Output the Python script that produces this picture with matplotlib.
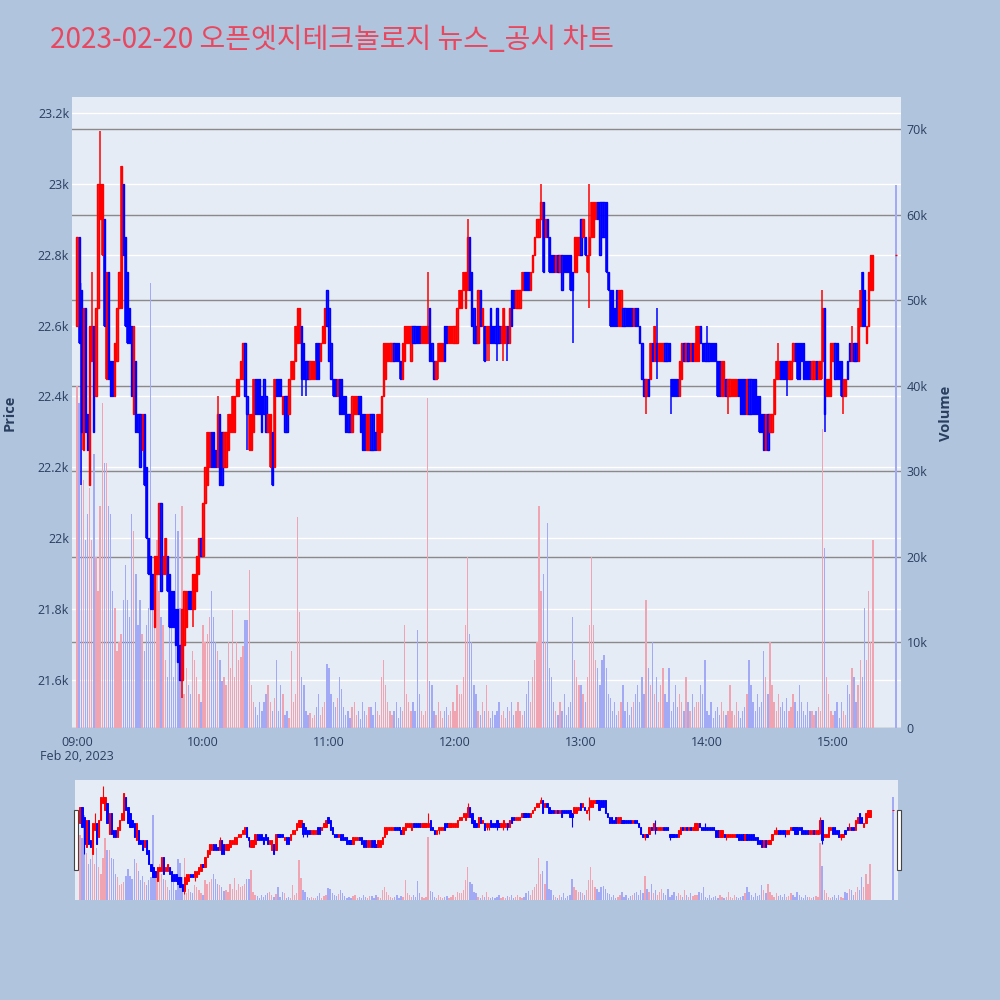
import numpy as np
import matplotlib.pyplot as plt
from matplotlib.patches import Rectangle
from matplotlib.ticker import FuncFormatter

plt.rcParams['font.family'] = ['Open Sans', 'Noto Sans CJK KR', 'DejaVu Sans']

# prices are stored as ticks of 50 won above 21,500
BASE = 21500
TICK = 50

# minutes after 09:00 (continuous session, then the 15:30 closing auction)
minutes = list(range(380)) + [390]

open_t = [
    22, 27, 24, 15, 23, 17, 13, 20, 22, 18, 23, 28, 26, 28, 19, 25, 20, 20, 18, 20,
    23, 23, 30, 27, 25, 23, 22, 17, 20, 17, 17, 15, 17, 14, 10, 9, 8, 5, 8, 8,
    12, 8, 8, 9, 8, 7, 7, 6, 6, 4, 2, 4, 5, 7, 7, 6, 6, 7, 8, 10,
    9, 12, 13, 14, 16, 16, 15, 14, 17, 16, 14, 14, 15, 16, 16, 16, 18, 18, 19, 19,
    21, 18, 15, 15, 16, 19, 19, 19, 18, 19, 18, 16, 14, 16, 14, 19, 19, 19, 17, 18,
    18, 17, 19, 19, 20, 21, 21, 22, 21, 20, 20, 19, 19, 19, 21, 21, 20, 21, 21, 24,
    23, 21, 19, 19, 18, 19, 19, 18, 18, 17, 17, 16, 17, 17, 18, 18, 17, 17, 15, 15,
    17, 17, 16, 15, 15, 16, 18, 19, 20, 20, 20, 21, 21, 21, 20, 19, 20, 21, 21, 20,
    22, 22, 22, 22, 21, 21, 21, 21, 23, 21, 20, 19, 20, 20, 20, 22, 22, 21, 21, 21,
    21, 21, 23, 23, 24, 23, 24, 27, 25, 23, 22, 21, 24, 22, 22, 21, 21, 23, 22, 22,
    23, 22, 21, 21, 21, 22, 21, 24, 24, 23, 23, 23, 24, 25, 25, 25, 24, 25, 26, 27,
    27, 28, 29, 27, 28, 27, 26, 26, 25, 26, 25, 26, 26, 26, 26, 26, 25, 25, 25, 26,
    28, 27, 27, 25, 26, 27, 27, 28, 29, 29, 29, 29, 29, 25, 24, 24, 23, 24, 22, 22,
    23, 23, 23, 23, 23, 22, 23, 23, 22, 21, 19, 18, 19, 19, 21, 20, 21, 20, 20, 20,
    21, 21, 21, 19, 19, 19, 19, 18, 19, 21, 20, 21, 20, 21, 20, 20, 20, 22, 21, 21,
    21, 21, 21, 21, 21, 20, 20, 18, 18, 19, 18, 18, 18, 18, 18, 19, 19, 19, 19, 17,
    19, 19, 19, 19, 18, 18, 17, 17, 15, 17, 16, 16, 17, 19, 19, 20, 20, 20, 20, 19,
    19, 20, 21, 21, 21, 21, 21, 20, 20, 20, 19, 19, 20, 19, 19, 20, 23, 18, 18, 18,
    20, 21, 21, 20, 20, 18, 18, 20, 21, 20, 21, 21, 20, 22, 25, 24, 21, 22, 24, 24,
    26]

close_t = [
    27, 21, 16, 23, 16, 15, 22, 22, 16, 23, 30, 30, 30, 22, 25, 19, 18, 18, 21, 23,
    25, 31, 26, 22, 21, 21, 18, 22, 16, 16, 14, 17, 13, 10, 8, 6, 6, 9, 9, 12,
    7, 9, 10, 7, 5, 5, 5, 4, 3, 2, 6, 7, 7, 6, 6, 8, 8, 9, 10, 9,
    12, 14, 16, 16, 14, 14, 14, 17, 13, 13, 16, 16, 17, 17, 18, 18, 19, 19, 20, 21,
    18, 17, 17, 17, 19, 17, 17, 17, 16, 17, 16, 17, 17, 13, 19, 18, 18, 18, 18, 16,
    16, 19, 20, 20, 22, 23, 23, 19, 19, 19, 19, 20, 20, 20, 19, 19, 21, 22, 23, 22,
    20, 19, 18, 18, 19, 17, 17, 17, 16, 16, 16, 18, 18, 18, 17, 16, 15, 15, 17, 17,
    15, 15, 15, 17, 17, 18, 21, 21, 21, 21, 21, 20, 20, 20, 19, 21, 22, 22, 22, 22,
    21, 21, 21, 21, 22, 22, 22, 22, 20, 20, 19, 20, 21, 21, 21, 20, 21, 22, 22, 22,
    22, 23, 24, 24, 25, 25, 27, 24, 22, 21, 21, 24, 22, 23, 20, 22, 22, 21, 21, 21,
    21, 21, 22, 23, 22, 21, 23, 22, 23, 24, 24, 24, 25, 24, 24, 24, 25, 26, 27, 28,
    28, 29, 25, 28, 27, 25, 25, 25, 26, 25, 26, 24, 25, 25, 25, 24, 24, 27, 27, 27,
    26, 28, 26, 26, 27, 29, 29, 29, 28, 26, 27, 27, 25, 24, 22, 22, 22, 22, 24, 24,
    22, 22, 22, 22, 22, 23, 22, 22, 21, 19, 18, 19, 18, 21, 20, 22, 20, 21, 21, 21,
    20, 20, 20, 18, 18, 18, 18, 20, 21, 20, 21, 20, 21, 20, 21, 22, 22, 21, 20, 20,
    20, 20, 20, 20, 20, 18, 18, 20, 20, 18, 19, 19, 19, 19, 19, 18, 17, 17, 17, 19,
    17, 17, 17, 17, 17, 16, 16, 15, 17, 15, 17, 17, 19, 20, 20, 19, 19, 19, 19, 20,
    20, 21, 20, 19, 19, 20, 19, 19, 19, 19, 20, 20, 19, 20, 20, 23, 17, 19, 19, 21,
    21, 19, 19, 19, 18, 19, 19, 19, 20, 21, 20, 20, 23, 24, 22, 22, 22, 25, 26, 26,
    26]

high_t = [
    27, 27, 24, 23, 23, 17, 22, 25, 22, 23, 30, 33, 30, 28, 25, 25, 20, 20, 21, 23,
    25, 31, 30, 27, 25, 23, 22, 22, 20, 17, 17, 17, 17, 14, 10, 9, 8, 9, 9, 12,
    12, 9, 10, 9, 8, 7, 7, 6, 6, 4, 6, 7, 7, 7, 7, 8, 8, 9, 10, 10,
    12, 14, 16, 16, 16, 16, 15, 18, 17, 16, 16, 16, 17, 17, 18, 18, 19, 19, 20, 21,
    21, 18, 17, 17, 19, 19, 19, 19, 18, 19, 18, 17, 17, 16, 19, 19, 19, 19, 18, 18,
    18, 19, 20, 20, 22, 23, 23, 22, 21, 20, 20, 20, 20, 20, 21, 21, 21, 22, 23, 24,
    23, 21, 19, 19, 19, 19, 19, 18, 18, 17, 17, 18, 18, 18, 18, 18, 17, 17, 17, 17,
    17, 17, 16, 17, 17, 18, 21, 21, 21, 21, 21, 21, 21, 21, 20, 21, 22, 22, 22, 22,
    22, 22, 22, 22, 22, 22, 22, 25, 23, 21, 20, 20, 21, 21, 21, 22, 22, 22, 22, 22,
    22, 23, 24, 24, 25, 25, 28, 27, 25, 23, 22, 24, 24, 23, 22, 22, 22, 23, 22, 22,
    23, 22, 22, 23, 22, 22, 23, 24, 24, 24, 24, 24, 25, 25, 25, 25, 25, 26, 27, 28,
    28, 30, 29, 28, 28, 27, 26, 26, 26, 26, 26, 26, 26, 26, 26, 26, 25, 27, 27, 27,
    28, 28, 27, 26, 30, 29, 29, 29, 29, 29, 29, 29, 29, 25, 24, 24, 23, 24, 24, 24,
    23, 23, 23, 23, 23, 23, 23, 23, 22, 21, 19, 19, 19, 21, 21, 22, 23, 21, 21, 21,
    21, 21, 21, 19, 19, 19, 19, 20, 21, 21, 21, 21, 21, 21, 21, 22, 22, 22, 21, 21,
    22, 21, 21, 21, 21, 20, 20, 20, 20, 19, 19, 19, 19, 19, 19, 19, 19, 19, 19, 19,
    19, 19, 19, 19, 18, 18, 17, 17, 17, 17, 17, 17, 19, 20, 21, 20, 20, 20, 20, 20,
    20, 21, 21, 21, 21, 21, 21, 20, 20, 20, 20, 20, 20, 20, 20, 24, 23, 19, 19, 21,
    21, 21, 21, 20, 20, 19, 19, 20, 21, 22, 21, 21, 23, 24, 25, 24, 22, 25, 26, 26,
    26]

low_t = [
    22, 21, 13, 15, 16, 15, 13, 20, 16, 18, 23, 28, 26, 22, 19, 19, 18, 18, 18, 20,
    23, 23, 26, 22, 21, 21, 18, 17, 16, 16, 14, 15, 13, 10, 8, 6, 6, 5, 8, 8,
    7, 8, 8, 7, 5, 5, 5, 4, 3, 2, 1, 4, 5, 6, 6, 5, 6, 7, 8, 9,
    9, 12, 13, 14, 14, 14, 14, 14, 13, 13, 14, 14, 15, 16, 16, 16, 18, 18, 19, 19,
    18, 15, 15, 15, 16, 17, 17, 17, 16, 17, 16, 16, 14, 13, 14, 18, 18, 18, 17, 16,
    16, 17, 19, 19, 20, 21, 21, 18, 19, 18, 19, 19, 19, 19, 19, 19, 20, 21, 21, 22,
    20, 19, 18, 18, 18, 17, 17, 17, 16, 16, 16, 16, 17, 17, 17, 16, 15, 15, 15, 15,
    15, 15, 15, 15, 15, 16, 18, 19, 20, 20, 20, 20, 20, 20, 19, 19, 20, 21, 21, 20,
    21, 21, 21, 21, 21, 21, 21, 21, 20, 20, 19, 19, 19, 20, 20, 20, 21, 21, 21, 21,
    21, 21, 23, 23, 24, 23, 24, 24, 22, 21, 21, 21, 22, 22, 20, 20, 20, 21, 21, 21,
    20, 21, 21, 20, 21, 20, 21, 22, 23, 23, 23, 23, 24, 24, 24, 24, 24, 25, 26, 27,
    27, 28, 25, 27, 27, 25, 25, 25, 25, 25, 25, 24, 25, 25, 25, 24, 21, 25, 25, 26,
    26, 27, 26, 25, 23, 27, 27, 28, 28, 26, 27, 27, 25, 24, 22, 22, 22, 22, 22, 22,
    22, 22, 22, 22, 22, 22, 22, 22, 21, 19, 18, 17, 18, 19, 20, 20, 19, 20, 20, 20,
    20, 20, 20, 17, 18, 18, 18, 18, 19, 20, 20, 20, 20, 20, 20, 20, 20, 21, 20, 20,
    20, 20, 20, 20, 20, 18, 18, 18, 18, 18, 17, 18, 18, 18, 18, 18, 17, 17, 17, 17,
    17, 17, 17, 17, 17, 16, 16, 15, 15, 15, 16, 16, 17, 19, 19, 19, 19, 19, 18, 19,
    19, 20, 20, 19, 19, 20, 19, 19, 19, 19, 19, 19, 19, 19, 19, 19, 16, 18, 18, 18,
    20, 19, 19, 19, 18, 17, 18, 19, 20, 20, 20, 20, 20, 22, 22, 22, 21, 22, 24, 24,
    26]

# traded volume per minute, thousands of shares
volume_k = [
    40, 38, 52, 29, 22, 25, 28, 22, 32, 20, 16, 26, 38, 31, 31, 26, 25, 16, 14, 9,
    10, 11, 15, 19, 15, 13, 25, 23, 18, 12, 15, 11, 9, 12, 14, 52, 15, 17, 22, 16,
    13, 12, 8, 6, 15, 12, 6, 25, 23, 14, 26, 4, 7, 5, 4, 9, 8, 6, 4, 3,
    12, 10, 11, 13, 16, 13, 10, 9, 8, 5.5, 6, 5, 10, 7, 13.8, 6, 10, 8, 8.3, 9.6,
    12.6, 12.6, 18.5, 5, 3, 2.5, 1.5, 3, 2, 3, 4, 5, 3, 2, 3.5, 8, 2, 5, 4, 1.5,
    2, 1.2, 9, 3, 4, 24.7, 13.5, 6, 5, 2, 1.5, 1.8, 1.2, 1.5, 2.5, 4, 1.5, 2.5, 3, 7.5,
    7, 4, 3, 2.5, 3.5, 6, 4.5, 2.5, 1.5, 2, 1.2, 2.5, 3, 1.5, 2, 1, 3, 2, 1.5, 2.5,
    2.5, 1.5, 3, 2, 1.5, 6, 8, 5, 3, 2, 1.5, 2, 3, 1.2, 2.5, 2, 12, 4, 3, 2,
    3, 2, 11.5, 4, 2, 1.5, 2, 38.6, 5.5, 5, 2, 1.5, 3, 2, 1.2, 2, 2.5, 1.5, 2, 3,
    2, 5, 4, 4, 6, 12, 20, 11, 10, 5, 4, 2, 1.5, 3, 2, 5, 2, 1.2, 2, 1.5,
    2, 3, 1.5, 2, 1.2, 2.5, 2, 3, 1.5, 2, 3, 2, 1.5, 2, 4, 5.5, 3, 6, 8, 10,
    26, 16, 18, 10, 24, 7, 6, 3, 2, 1.5, 3, 2, 4, 1.5, 2.5, 3, 13, 8, 6, 5,
    5, 4, 3, 6, 12, 20, 12, 8, 7, 5, 8, 8.5, 7, 4, 3.5, 2, 3, 1.5, 2, 3,
    5, 2, 3, 1.5, 2.5, 3, 4, 5, 3, 6, 4, 15, 7, 5, 10, 4, 6, 3, 5, 7,
    4, 3, 7, 2, 3, 5, 2.5, 4, 3, 2, 6, 3, 2, 4, 2.5, 3, 3, 5, 4, 8,
    2, 1.5, 3, 1.2, 2, 2.5, 1.5, 3, 2, 1.5, 2, 5, 2, 1.5, 3, 2, 1.2, 2, 2.5, 4,
    8, 5, 3, 2, 4, 2.5, 3, 9, 6, 4, 10, 5, 3, 2, 4, 2.5, 3, 2, 3.5, 2,
    2.5, 4, 3, 2, 5, 3, 2, 1.5, 3, 2, 2, 1.5, 2, 2.5, 2, 35, 21, 6, 4, 2,
    1.5, 2, 3, 1.2, 3, 2, 1.5, 5, 4, 7, 6, 3, 5, 8, 6, 14, 8, 16, 10, 22,
    63.4]

hour_ticks = [0, 60, 120, 180, 240, 300, 360]
hour_labels = ['09:00', '10:00', '11:00', '12:00', '13:00', '14:00', '15:00']
price_ticks = list(range(21600, 23201, 200))
volume_ticks = list(range(0, 70001, 10000))

x = np.array(minutes)
o = BASE + TICK * np.array(open_t)
c = BASE + TICK * np.array(close_t)
h = BASE + TICK * np.array(high_t)
l = BASE + TICK * np.array(low_t)
v = np.array(volume_k) * 1000

up = c >= o
line_col = np.where(up, '#FF0000', '#0000FF')
face_col = [(1, 0, 0, 0.5) if u else (0, 0, 1, 0.5) for u in up]
# volume bars: blue/red at low opacity over the plot background
vol_col = np.where(c > o, '#F0A4B2', '#A2AAF6')

BG = '#B0C4DE'
PLOT_BG = '#E5ECF6'
TXT = '#2a3f5f'
XLIM = (-2.4, 392.4)
PLIM = (21464.5, 23245)
VLIM = (0, 73740)


def draw_candles(ax, wick_lw, body_lw, body_w):
    ax.vlines(x, l, h, colors=line_col, linewidth=wick_lw, zorder=3)
    ax.bar(x, np.abs(c - o), bottom=np.minimum(o, c), width=body_w,
           color=face_col, edgecolor=line_col, linewidth=body_lw, zorder=4)


fig = plt.figure(figsize=(10, 10), dpi=100, facecolor=BG)

# main chart: price background/grid, volume layer, candle layer
rect = [0.072, 0.272, 0.829, 0.631]
ax_p = fig.add_axes(rect)
ax_p.set_facecolor(PLOT_BG)
ax_p.set_xlim(XLIM)
ax_p.set_ylim(PLIM)
ax_p.set_yticks(price_ticks)
ax_p.yaxis.set_major_formatter(FuncFormatter(lambda val, pos: f'{val/1000:g}k'))
ax_p.grid(axis='y', color='white', linewidth=1.0)
ax_p.set_axisbelow(True)
ax_p.set_xticks(hour_ticks)
ax_p.set_xticklabels(hour_labels)
ax_p.tick_params(length=0, labelsize=9, labelcolor=TXT)
ax_p.tick_params(axis='x', pad=6)
ax_p.tick_params(axis='y', pad=2)
for s in ax_p.spines.values():
    s.set_visible(False)

ax_v = fig.add_axes(rect, sharex=ax_p)
ax_v.patch.set_alpha(0)
ax_v.set_ylim(VLIM)
ax_v.yaxis.tick_right()
ax_v.set_yticks(volume_ticks)
ax_v.yaxis.set_major_formatter(FuncFormatter(lambda val, pos: '0' if val == 0 else f'{val/1000:g}k'))
ax_v.grid(axis='y', color='#8a8a8a', linewidth=1.0)
ax_v.set_axisbelow(True)
ax_v.tick_params(length=0, labelsize=9, labelcolor=TXT, pad=4)
ax_v.tick_params(axis='x', labelbottom=False)
ax_v.bar(x, v, width=0.65, color=vol_col, linewidth=0, zorder=2)
for s in ax_v.spines.values():
    s.set_visible(False)

ax_c = fig.add_axes(rect, sharex=ax_p)
ax_c.patch.set_alpha(0)
ax_c.set_ylim(PLIM)
ax_c.axis('off')
draw_candles(ax_c, 1.1, 1.0, 0.6)

# range slider below
srect = [0.075, 0.100, 0.823, 0.120]
ax_sv = fig.add_axes(srect)
ax_sv.set_facecolor(PLOT_BG)
ax_sv.set_xlim(XLIM)
ax_sv.set_ylim(VLIM)
ax_sv.bar(x, v, width=0.65, color=vol_col, linewidth=0)
ax_sv.set_xticks([])
ax_sv.set_yticks([])
for s in ax_sv.spines.values():
    s.set_visible(False)

ax_sc = fig.add_axes(srect, sharex=ax_sv)
ax_sc.patch.set_alpha(0)
ax_sc.set_ylim(PLIM)
ax_sc.axis('off')
draw_candles(ax_sc, 0.8, 0.7, 0.6)

for gx in (0.0735, 0.8965):
    fig.patches.append(Rectangle((gx, 0.130), 0.004, 0.060, transform=fig.transFigure,
                                 facecolor='white', edgecolor='#444444', linewidth=0.8))

fig.text(0.05, 0.960, '2023-02-20 오픈엣지테크놀로지 뉴스_공시 차트',
         family=['Noto Sans CJK KR', 'DejaVu Sans'], fontsize=20.2,
         color='#E8485F', ha='left', va='center')
fig.text(0.077, 0.243, 'Feb 20, 2023', fontsize=9, color=TXT, ha='center', va='center')
fig.text(0.010, 0.587, 'Price', rotation=90, fontsize=10.5, fontweight='bold',
         color=TXT, ha='center', va='center')
fig.text(0.946, 0.587, 'Volume', rotation=90, fontsize=10.5, fontweight='bold',
         color=TXT, ha='center', va='center')

plt.savefig('out.png', dpi=100, facecolor=BG)
